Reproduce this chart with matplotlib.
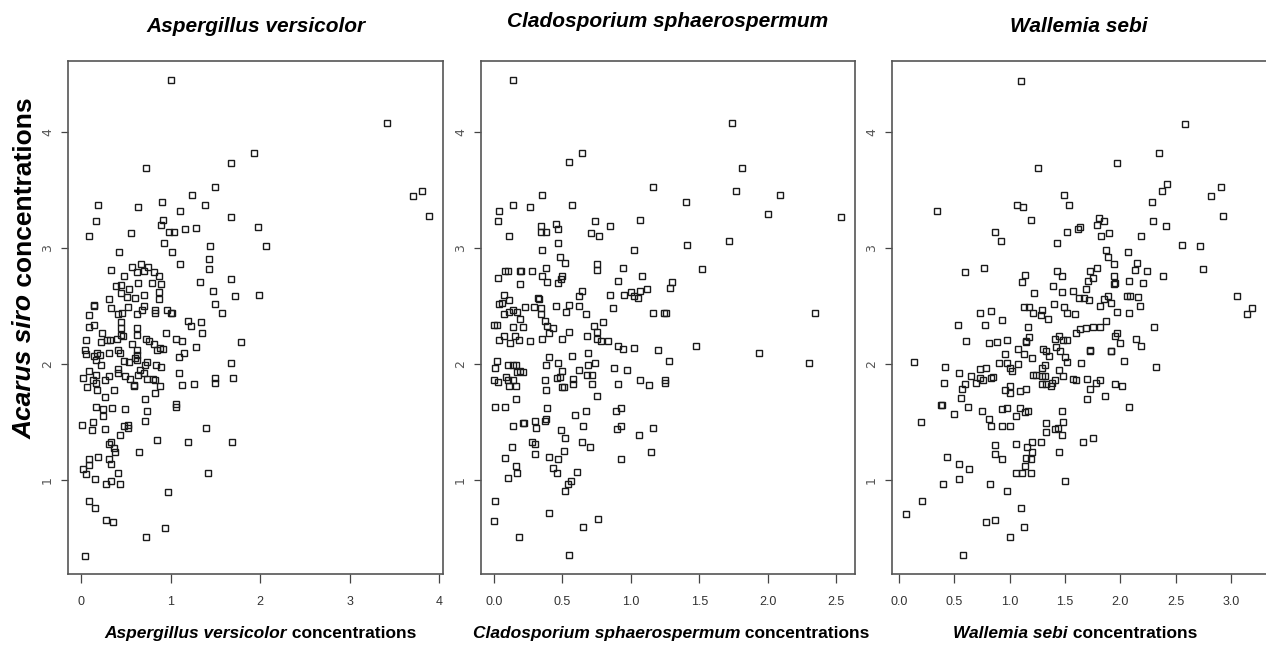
import matplotlib
matplotlib.use("Agg")
import matplotlib.pyplot as plt

# Acarus siro vs fungal concentrations (three panels)
titles = ["Aspergillus versicolor", "Cladosporium sphaerospermum", "Wallemia sebi"]

x1 = [1.01, 3.42, 3.70, 3.81, 3.88, 1.93, 1.67, 0.72, 1.50, 1.24, 1.38, 0.90, 0.19, 0.17, 0.09,
      0.64, 1.10, 1.67, 0.91, 0.89, 0.98, 1.04, 1.16, 1.28, 0.56, 1.98, 2.06, 0.93, 1.02, 0.42,
      1.44, 1.43, 1.43, 1.10, 0.34, 0.57, 0.67, 0.75, 0.63, 0.70, 0.82, 0.87, 0.48, 0.64, 0.79,
      0.89, 1.33, 1.67, 0.39, 0.45, 0.54, 0.45, 0.51, 0.60, 0.70, 0.87, 0.87, 1.47, 1.72, 1.99,
      0.31, 0.14, 0.15, 1.50, 1.57, 0.34, 0.41, 0.46, 0.52, 0.63, 0.68, 0.70, 0.83, 0.83, 0.96,
      1.00, 1.02, 0.09, 0.09, 0.14, 0.45, 0.45, 0.45, 0.62, 0.62, 0.40, 0.47, 1.19, 1.23, 1.34,
      1.35, 0.95, 1.06, 1.13, 1.28, 1.79, 0.23, 0.22, 0.29, 0.32, 0.06, 0.72, 0.76, 0.82, 0.88,
      0.92, 0.57, 0.62, 0.63, 0.62, 0.85, 1.09, 1.15, 0.05, 0.06, 0.14, 0.18, 0.21, 0.17, 0.22,
      0.31, 0.41, 0.43, 0.48, 0.54, 0.60, 0.74, 0.71, 0.84, 0.89, 0.66, 1.67, 0.02, 0.09, 0.13,
      0.17, 0.07, 0.17, 0.18, 0.27, 0.31, 0.41, 0.41, 0.49, 0.55, 0.59, 0.59, 0.64, 0.70, 0.74,
      0.80, 0.83, 0.88, 1.09, 1.13, 1.26, 1.49, 1.50, 1.70, 0.37, 0.27, 0.83, 0.71, 1.06, 1.06,
      0.17, 0.25, 0.25, 0.35, 0.49, 0.74, 0.01, 0.13, 0.12, 0.27, 0.48, 0.52, 0.53, 0.71, 0.44,
      0.85, 1.19, 1.40, 1.69, 0.31, 0.33, 0.37, 0.38, 0.65, 0.09, 0.19, 0.31, 0.33, 0.02, 0.06,
      0.09, 0.41, 0.16, 0.28, 0.33, 0.44, 1.42, 0.97, 0.09, 0.16, 0.28, 0.36, 0.94, 0.72, 0.04]
y1 = [4.45, 4.08, 3.45, 3.49, 3.28, 3.82, 3.73, 3.69, 3.53, 3.46, 3.37, 3.40, 3.37, 3.23, 3.10,
      3.35, 3.32, 3.27, 3.24, 3.20, 3.14, 3.14, 3.16, 3.17, 3.13, 3.18, 3.02, 3.04, 2.97, 2.97,
      3.02, 2.91, 2.82, 2.86, 2.81, 2.84, 2.86, 2.84, 2.79, 2.80, 2.79, 2.76, 2.76, 2.70, 2.70,
      2.69, 2.71, 2.73, 2.67, 2.68, 2.65, 2.61, 2.58, 2.57, 2.60, 2.62, 2.56, 2.63, 2.59, 2.60,
      2.56, 2.50, 2.51, 2.52, 2.44, 2.48, 2.43, 2.44, 2.49, 2.43, 2.47, 2.50, 2.47, 2.44, 2.47,
      2.44, 2.44, 2.42, 2.32, 2.34, 2.36, 2.31, 2.25, 2.31, 2.25, 2.22, 2.24, 2.37, 2.33, 2.36,
      2.27, 2.27, 2.22, 2.20, 2.15, 2.19, 2.27, 2.19, 2.21, 2.21, 2.21, 2.22, 2.20, 2.17, 2.14,
      2.13, 2.17, 2.12, 2.08, 2.04, 2.12, 2.06, 2.10, 2.12, 2.09, 2.07, 2.10, 2.08, 2.04, 1.99,
      2.10, 2.12, 2.10, 2.03, 2.02, 2.05, 2.02, 1.99, 1.99, 1.98, 1.95, 2.01, 1.88, 1.94, 1.86,
      1.91, 1.80, 1.84, 1.78, 1.86, 1.90, 1.96, 1.92, 1.90, 1.87, 1.82, 1.81, 1.91, 1.92, 1.87,
      1.87, 1.86, 1.81, 1.92, 1.82, 1.83, 1.88, 1.84, 1.88, 1.78, 1.72, 1.75, 1.70, 1.66, 1.63,
      1.63, 1.61, 1.55, 1.62, 1.61, 1.60, 1.48, 1.50, 1.43, 1.44, 1.47, 1.48, 1.45, 1.51, 1.39,
      1.35, 1.33, 1.45, 1.33, 1.31, 1.33, 1.28, 1.24, 1.24, 1.18, 1.20, 1.18, 1.14, 1.10, 1.05,
      1.13, 1.06, 1.01, 0.97, 0.99, 0.97, 1.06, 0.90, 0.82, 0.76, 0.66, 0.64, 0.59, 0.51, 0.35]

x2 = [0.14, 1.74, 0.64, 0.55, 1.81, 1.16, 1.77, 2.09, 0.35, 1.40, 0.14, 0.04, 0.03, 0.26, 0.57,
      2.00, 2.54, 1.07, 0.74, 0.85, 0.71, 0.77, 0.34, 0.34, 0.38, 0.45, 0.47, 0.11, 0.47, 1.72,
      1.41, 1.02, 0.35, 0.48, 0.52, 1.52, 0.03, 0.08, 0.10, 0.19, 0.20, 0.28, 0.38, 0.35, 0.39,
      0.47, 0.49, 0.50, 0.19, 0.75, 0.75, 0.94, 0.91, 1.08, 1.29, 1.30, 1.12, 0.85, 0.95, 1.00,
      1.02, 1.05, 1.07, 0.64, 0.62, 0.55, 0.62, 0.53, 0.45, 0.07, 0.04, 0.06, 0.11, 0.32, 0.33,
      0.23, 0.29, 0.34, 0.34, 0.37, 0.07, 0.11, 0.14, 0.17, 0.19, 0.67, 0.87, 1.16, 1.24, 1.26,
      2.35, 0.80, 0.00, 0.02, 0.21, 0.14, 0.39, 0.43, 0.40, 0.73, 0.75, 0.75, 0.78, 0.83, 0.55,
      0.50, 0.35, 0.68, 0.04, 0.07, 0.12, 0.15, 0.18, 0.26, 1.48, 0.91, 0.94, 1.02, 1.20, 1.94,
      2.30, 1.28, 0.01, 0.02, 0.10, 0.14, 0.16, 0.17, 0.19, 0.21, 0.09, 0.10, 0.11, 0.14, 0.16,
      0.16, 0.00, 0.03, 0.38, 0.40, 0.47, 0.50, 0.48, 0.50, 0.37, 0.38, 0.46, 0.51, 0.57, 0.62,
      0.58, 0.58, 0.69, 0.69, 0.68, 0.72, 0.74, 0.72, 0.75, 0.88, 0.91, 0.97, 1.07, 1.13, 1.25,
      1.25, 0.01, 0.08, 0.39, 0.67, 0.89, 0.93, 0.14, 0.21, 0.22, 0.30, 0.31, 0.37, 0.38, 0.59,
      0.65, 0.49, 0.52, 0.90, 0.93, 1.06, 1.16, 0.13, 0.28, 0.30, 0.30, 0.40, 0.47, 0.51, 0.64,
      0.70, 0.93, 1.15, 0.08, 0.10, 0.16, 0.17, 0.43, 0.46, 0.61, 0.52, 0.54, 0.56, 0.01, 0.00,
      0.40, 0.76, 0.65, 0.18, 0.55]
y2 = [4.45, 4.08, 3.82, 3.74, 3.69, 3.53, 3.49, 3.46, 3.46, 3.40, 3.37, 3.32, 3.23, 3.35, 3.37,
      3.29, 3.27, 3.24, 3.23, 3.19, 3.13, 3.10, 3.19, 3.14, 3.14, 3.21, 3.16, 3.10, 3.04, 3.06,
      3.03, 2.98, 2.98, 2.92, 2.87, 2.82, 2.74, 2.80, 2.80, 2.80, 2.80, 2.80, 2.83, 2.76, 2.71,
      2.70, 2.73, 2.76, 2.69, 2.86, 2.81, 2.83, 2.72, 2.76, 2.66, 2.71, 2.65, 2.60, 2.60, 2.62,
      2.59, 2.57, 2.63, 2.63, 2.59, 2.51, 2.50, 2.45, 2.50, 2.60, 2.52, 2.53, 2.55, 2.57, 2.56,
      2.49, 2.49, 2.48, 2.43, 2.37, 2.43, 2.45, 2.47, 2.45, 2.39, 2.43, 2.48, 2.44, 2.44, 2.44,
      2.44, 2.36, 2.34, 2.34, 2.32, 2.32, 2.33, 2.31, 2.27, 2.33, 2.28, 2.22, 2.20, 2.20, 2.28,
      2.22, 2.22, 2.24, 2.21, 2.24, 2.18, 2.24, 2.21, 2.20, 2.16, 2.16, 2.13, 2.14, 2.12, 2.10,
      2.01, 2.03, 1.97, 2.03, 1.99, 1.99, 1.99, 1.93, 1.94, 1.93, 1.89, 1.86, 1.81, 1.86, 1.81,
      1.70, 1.86, 1.85, 1.99, 2.06, 2.01, 1.94, 1.89, 1.80, 1.86, 1.78, 1.88, 1.80, 2.07, 1.95,
      1.87, 1.83, 2.10, 1.99, 1.91, 1.91, 2.01, 1.83, 1.73, 1.97, 1.83, 1.95, 1.86, 1.82, 1.86,
      1.84, 1.63, 1.63, 1.62, 1.60, 1.60, 1.62, 1.47, 1.49, 1.49, 1.51, 1.45, 1.51, 1.53, 1.56,
      1.47, 1.43, 1.36, 1.44, 1.47, 1.39, 1.45, 1.29, 1.33, 1.31, 1.23, 1.20, 1.18, 1.25, 1.33,
      1.29, 1.18, 1.24, 1.19, 1.02, 1.12, 1.06, 1.11, 1.06, 1.07, 0.91, 0.97, 0.99, 0.82, 0.65,
      0.72, 0.67, 0.60, 0.51, 0.36]

x3 = [1.10, 2.59, 2.35, 1.26, 1.97, 2.42, 2.38, 2.91, 2.82, 2.93, 2.29, 2.30, 2.41, 0.34, 1.49,
      1.54, 1.07, 1.12, 1.19, 0.87, 0.92, 1.52, 1.62, 1.64, 1.81, 1.85, 1.79, 1.83, 1.90, 1.43,
      2.19, 2.56, 2.72, 2.75, 1.87, 1.89, 1.94, 2.07, 0.60, 0.77, 1.11, 1.14, 1.22, 1.43, 1.47,
      1.39, 1.47, 1.57, 1.73, 1.75, 1.71, 1.79, 1.69, 1.63, 1.67, 1.72, 1.94, 1.94, 1.95, 2.08,
      2.13, 2.15, 2.24, 2.21, 2.39, 3.06, 3.15, 3.19, 1.82, 1.85, 1.89, 1.92, 1.97, 2.08, 2.06,
      2.09, 2.16, 2.18, 1.13, 1.18, 1.21, 1.29, 1.28, 1.35, 1.40, 1.49, 1.52, 1.59, 0.73, 0.83,
      0.93, 0.78, 0.53, 1.17, 1.18, 1.15, 1.41, 1.45, 1.48, 1.52, 1.60, 1.64, 1.69, 1.75, 1.82,
      1.87, 1.97, 1.95, 2.00, 2.14, 2.19, 2.31, 0.61, 0.81, 0.89, 0.98, 1.73, 1.92, 0.14, 0.42,
      0.54, 0.41, 0.65, 0.73, 0.73, 0.76, 0.79, 0.85, 0.70, 0.83, 0.60, 0.57, 0.56, 0.62, 0.39,
      0.50, 0.75, 0.90, 0.96, 0.98, 1.00, 1.02, 1.08, 1.08, 1.13, 1.15, 1.20, 1.21, 1.24, 1.29,
      1.32, 1.33, 1.36, 1.30, 1.29, 1.32, 0.96, 1.00, 1.00, 1.09, 1.15, 1.29, 1.33, 1.37, 1.41,
      1.38, 1.45, 1.48, 1.52, 1.57, 1.60, 1.65, 1.42, 1.46, 1.50, 1.70, 1.73, 1.78, 1.82, 1.86,
      1.70, 1.73, 1.92, 1.95, 2.02, 2.03, 2.08, 2.32, 0.81, 0.83, 0.93, 0.98, 0.93, 1.00, 1.06,
      1.09, 1.14, 1.17, 1.33, 1.33, 1.41, 1.44, 1.47, 1.48, 1.47, 1.66, 1.75, 0.20, 0.38, 1.06,
      1.16, 1.20, 1.28, 1.20, 1.15, 1.19, 1.14, 1.06, 1.11, 1.19, 0.87, 0.87, 0.93, 1.45, 0.43,
      0.54, 0.63, 0.40, 0.54, 0.82, 0.98, 1.50, 0.21, 0.06, 1.10, 1.13, 0.79, 0.87, 1.00, 0.58]
y3 = [4.44, 4.07, 3.82, 3.69, 3.73, 3.55, 3.49, 3.53, 3.45, 3.28, 3.40, 3.23, 3.19, 3.32, 3.46,
      3.37, 3.37, 3.35, 3.24, 3.14, 3.06, 3.14, 3.16, 3.18, 3.26, 3.23, 3.20, 3.10, 3.13, 3.04,
      3.10, 3.03, 3.02, 2.82, 2.98, 2.92, 2.86, 2.97, 2.79, 2.83, 2.71, 2.77, 2.61, 2.80, 2.76,
      2.67, 2.62, 2.63, 2.80, 2.74, 2.72, 2.83, 2.65, 2.57, 2.57, 2.55, 2.76, 2.69, 2.70, 2.72,
      2.81, 2.87, 2.80, 2.70, 2.76, 2.59, 2.43, 2.48, 2.50, 2.56, 2.59, 2.53, 2.45, 2.44, 2.59,
      2.59, 2.58, 2.50, 2.49, 2.49, 2.44, 2.47, 2.42, 2.39, 2.52, 2.49, 2.44, 2.43, 2.44, 2.46,
      2.38, 2.34, 2.34, 2.32, 2.23, 2.19, 2.22, 2.24, 2.21, 2.21, 2.27, 2.30, 2.31, 2.32, 2.32,
      2.37, 2.27, 2.24, 2.18, 2.22, 2.16, 2.32, 2.20, 2.18, 2.19, 2.21, 2.12, 2.11, 2.02, 1.98,
      1.92, 1.84, 1.90, 1.96, 1.88, 1.86, 1.97, 1.89, 1.84, 1.88, 1.83, 1.79, 1.71, 1.63, 1.65,
      1.57, 1.60, 2.01, 2.09, 2.01, 1.97, 1.94, 2.00, 2.13, 2.09, 2.20, 2.05, 1.91, 1.91, 1.97,
      1.99, 2.11, 2.07, 2.13, 1.90, 1.90, 1.78, 1.81, 1.75, 1.77, 1.79, 1.83, 1.83, 1.81, 1.86,
      1.84, 1.95, 1.90, 2.02, 1.87, 1.86, 2.01, 2.15, 2.11, 2.06, 1.87, 1.79, 1.84, 1.86, 1.73,
      1.70, 2.11, 2.11, 1.83, 1.81, 2.03, 1.63, 1.98, 1.53, 1.47, 1.61, 1.62, 1.47, 1.47, 1.55,
      1.62, 1.59, 1.60, 1.49, 1.42, 1.44, 1.45, 1.60, 1.50, 1.39, 1.33, 1.36, 1.50, 1.65, 1.31,
      1.29, 1.33, 1.33, 1.24, 1.19, 1.18, 1.12, 1.06, 1.06, 1.06, 1.30, 1.23, 1.18, 1.24, 1.20,
      1.14, 1.10, 0.97, 1.01, 0.97, 0.91, 0.99, 0.82, 0.71, 0.76, 0.60, 0.64, 0.66, 0.51, 0.36]

xticks = [[0, 1, 2, 3, 4],
          [0.0, 0.5, 1.0, 1.5, 2.0, 2.5],
          [0.0, 0.5, 1.0, 1.5, 2.0, 2.5, 3.0]]
xticklabels = [["0", "1", "2", "3", "4"],
               ["0.0", "0.5", "1.0", "1.5", "2.0", "2.5"],
               ["0.0", "0.5", "1.0", "1.5", "2.0", "2.5", "3.0"]]
yticks = [1, 2, 3, 4]
xlims = [(-0.145, 4.04), (-0.095, 2.639), (-0.063, 3.318)]
ylim = (0.193, 4.611)

FONT = ["Liberation Sans", "DejaVu Sans"]
W, H = 1266, 655

fig = plt.figure(figsize=(W / 100, H / 100), dpi=100)
boxes = [(68, 443), (481, 855), (892, 1266)]
top, bottom = 61, 574
title_offset = [29, 34, 29]      # baseline distance above the box, px
label_cx = [260, 671, 1075]

data = [(x1, y1), (x2, y2), (x3, y3)]
for i, (l, r) in enumerate(boxes):
    ax = fig.add_axes([l / W, 1 - bottom / H, (r - l) / W, (bottom - top) / H])
    xs, ys = data[i]
    ax.plot(xs, ys, linestyle="none", marker="s", ms=3.8, mew=1.0,
            mfc="none", mec="#1a1a1a")
    ax.set_xlim(*xlims[i])
    ax.set_ylim(*ylim)
    ax.set_xticks(xticks[i])
    ax.set_xticklabels(xticklabels[i], family=FONT, fontsize=9, color="#333333")
    ax.set_yticks(yticks)
    ax.set_yticklabels([str(v) for v in yticks], rotation=90, va="center",
                       fontsize=9, color="#555555")
    ax.tick_params(axis="x", direction="out", length=6.5, width=0.9, pad=9, color="#444444")
    ax.tick_params(axis="y", direction="out", length=5, width=0.9, pad=5, color="#444444")
    for s in ax.spines.values():
        s.set_color("#555555")
        s.set_linewidth(1.2)
    if i == 2:
        ax.spines["right"].set_visible(False)
    ax.set_title(titles[i], family=FONT, fontsize=15, fontweight="bold",
                 style="italic", pad=0, y=1 + title_offset[i] / (bottom - top))

fig.canvas.draw()
renderer = fig.canvas.get_renderer()


def two_part_label(cx, cy, first, second, size, rotation=0):
    # italic species name followed by upright text, centred at (cx, cy) in pixels
    t1 = fig.text(0, 0, first, family=FONT, fontsize=size, fontweight="bold",
                  style="italic", rotation=rotation, ha="left", va="baseline")
    t2 = fig.text(0, 0, second, family=FONT, fontsize=size, fontweight="bold",
                  rotation=rotation, ha="left", va="baseline")
    e1 = t1.get_window_extent(renderer)
    e2 = t2.get_window_extent(renderer)
    if rotation == 0:
        total = e1.width + e2.width
        x0 = cx - total / 2
        t1.set_position((x0 / W, 1 - cy / H))
        t2.set_position(((x0 + e1.width) / W, 1 - cy / H))
    else:
        total = e1.height + e2.height
        y0 = cy + total / 2
        t1.set_ha("center")
        t2.set_ha("center")
        t1.set_va("bottom")
        t2.set_va("bottom")
        t1.set_position((cx / W, 1 - y0 / H))
        t2.set_position((cx / W, 1 - (y0 - e1.height) / H))


for i in range(3):
    two_part_label(label_cx[i], 638, titles[i], " concentrations", 12.5)

two_part_label(25, 268, "Acarus siro", " concentrations", 19, rotation=90)

fig.savefig("out.png", dpi=100)
